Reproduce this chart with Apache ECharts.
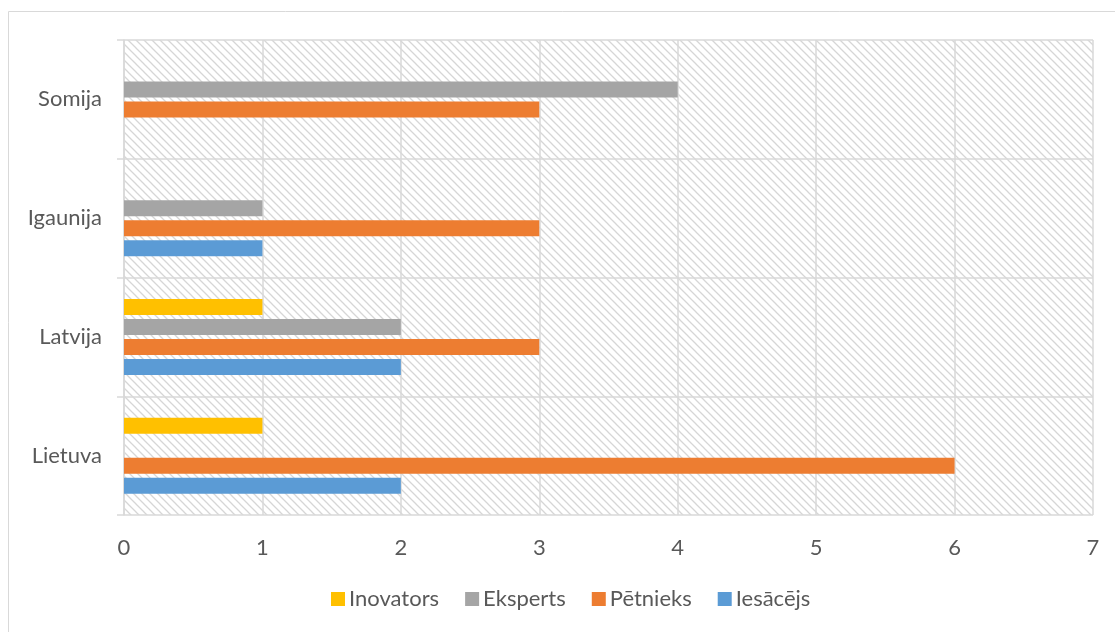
<!DOCTYPE html>
<html><head><meta charset="utf-8">
<script src="https://cdn.jsdelivr.net/npm/echarts@6/dist/echarts.min.js"></script>
<style>html,body{margin:0;padding:0;background:#fff}#c{width:1115px;height:632px}</style>
</head><body><div id="c"></div>
<script>
const categories = ['Lietuva', 'Latvija', 'Igaunija', 'Somija'];
const iesacejs = [2, 2, 1, 0];
const petnieks = [6, 3, 3, 3];
const eksperts = [0, 2, 1, 4];
const inovators = [1, 1, 0, 0];
const xTicks = [0, 1, 2, 3, 4, 5, 6, 7];

function hatch() {
  const s = 8;
  const c = document.createElement('canvas');
  c.width = s; c.height = s;
  const g = c.getContext('2d');
  g.fillStyle = '#ffffff'; g.fillRect(0, 0, s, s);
  g.strokeStyle = '#d6d6d6'; g.lineWidth = 1.3;
  g.beginPath();
  g.moveTo(-1, -1); g.lineTo(s + 1, s + 1);
  g.moveTo(-1, s - 1); g.lineTo(1, s + 1);
  g.moveTo(s - 1, -1); g.lineTo(s + 1, 1);
  g.stroke();
  return c;
}

const font = 'Lato, Open Sans, sans-serif';
const chart = echarts.init(document.getElementById('c'), null, {renderer: 'canvas'});
const mk = (name, data, color) => ({
  name, type: 'bar', data, barWidth: 16, barGap: '25%',
  itemStyle: {color}, emphasis: {disabled: true}
});
chart.setOption({
  animation: false,
  graphic: [{type: 'rect', shape: {x: 8.5, y: 11.5, width: 1120, height: 640}, style: {fill: 'none', stroke: '#d9d9d9', lineWidth: 1}, silent: true}],
  grid: {left: 124, right: 22, top: 40, bottom: 117, show: true, borderWidth: 0,
         backgroundColor: {image: hatch(), repeat: 'repeat'}},
  legend: {
    data: ['Inovators', 'Eksperts', 'Pētnieks', 'Iesācējs'],
    top: 588, left: 331, itemWidth: 14, itemHeight: 14, itemGap: 26, padding: 0,
    icon: 'rect', textStyle: {color: '#595959', fontSize: 22, fontFamily: font, padding: [0, 0, 0, -1]}
  },
  xAxis: {
    type: 'value', min: 0, max: 7, interval: 1,
    axisLine: {show: false}, axisTick: {show: false},
    axisLabel: {color: '#595959', fontSize: 22, fontFamily: font, margin: 22,
      formatter: v => String(xTicks[v])},
    splitLine: {show: true, lineStyle: {color: '#d9d9d9', width: 1.5}}
  },
  yAxis: {
    type: 'category', data: categories,
    axisLine: {show: true, lineStyle: {color: '#d9d9d9', width: 1.5}},
    axisTick: {show: true, length: 7, lineStyle: {color: '#d9d9d9', width: 1.5}},
    axisLabel: {color: '#595959', fontSize: 22, fontFamily: font, margin: 22},
    splitLine: {show: true, lineStyle: {color: '#d9d9d9', width: 1.5}}
  },
  series: [
    mk('Inovators', inovators, '#ffc000'),
    mk('Eksperts', eksperts, '#a5a5a5'),
    mk('Pētnieks', petnieks, '#ed7d31'),
    mk('Iesācējs', iesacejs, '#5b9bd5')
  ]
});
</script></body></html>
